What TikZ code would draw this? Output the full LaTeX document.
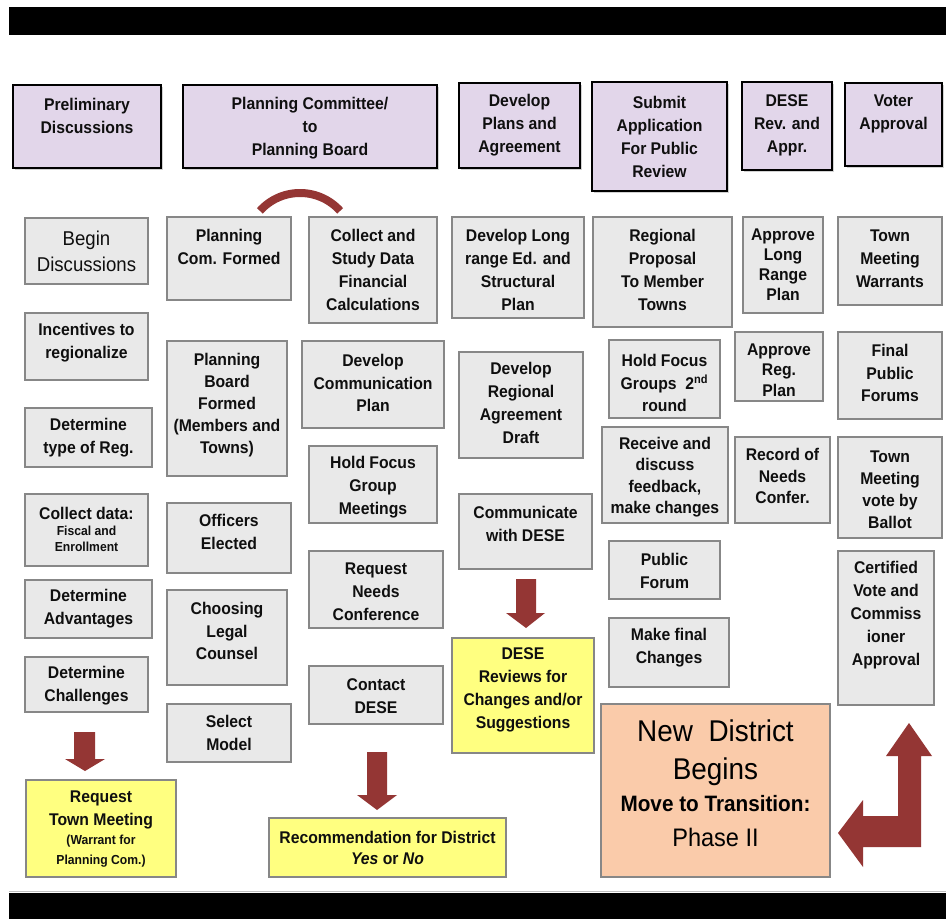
\documentclass[tikz,border=0pt]{standalone}
\usepackage{fontspec}
\setmainfont{Liberation Sans}[FakeStretch=0.93]
\usetikzlibrary{shadows}
\definecolor{hdrfill}{RGB}{226,214,234}
\definecolor{grayfill}{RGB}{233,233,233}
\definecolor{grayline}{RGB}{135,135,135}
\definecolor{yel}{RGB}{255,255,128}
\definecolor{peach}{RGB}{250,203,170}
\definecolor{dred}{RGB}{148,54,52}
\definecolor{ink}{RGB}{15,15,15}
\tikzset{
  hdr/.style={draw=black, line width=2.2pt, fill=hdrfill, inner sep=0pt, outer sep=0pt,
    drop shadow={shadow xshift=1.2pt, shadow yshift=-1.2pt, opacity=0.35}},
  gbox/.style={draw=grayline, line width=1.3pt, fill=grayfill, inner sep=0pt, outer sep=0pt,
    drop shadow={shadow xshift=0.9pt, shadow yshift=-0.9pt, opacity=0.25}},
  ybox/.style={gbox, fill=yel},
  obox/.style={gbox, fill=peach},
  txt/.style={align=center, inner sep=0pt, text=ink, font=\bfseries\fontsize{12.7}{17.2}\selectfont},
  blockarrow/.style={fill=dred, draw=none}
}
\NewDocumentCommand\BX{O{}mmmmmmmm}{%
  \node[#2, anchor=north west, minimum width={(#6-#4)*0.75pt}, minimum height={(#7-#5)*0.75pt}] (#3) at (#4,#5) {};
  \node[txt, #1] (#3t) at ({(#4+#6)/2},#8) {#9};
}
\begin{document}
\begin{tikzpicture}[x=0.75pt, y=-0.75pt]
\useasboundingbox (0,0) rectangle (946,919);
\fill[white] (0,0) rectangle (946,919);
% black bars
\fill[black] (9,7) rectangle (946,35);
\fill[black] (9,893) rectangle (946,919);
\draw[black!25, line width=0.8pt] (9,891.5) -- (946,891.5);

% headers
\BX{hdr}{h1}{13}{85}{161}{168}{116}{Preliminary\\Discussions}
\BX{hdr}{h2}{183}{85}{437}{168}{128}{Planning Committee/\\to\\Planning Board}
\BX{hdr}{h3}{459}{83}{580}{168}{125}{Develop\\Plans and\\Agreement}
\BX{hdr}{h4}{592}{82}{727}{191}{137}{Submit\\Application\\For Public\\Review}
\BX{hdr}{h5}{742}{82}{832}{170}{125}{DESE\\Rev. and\\Appr.}
\BX{hdr}{h6}{845}{83}{942}{166}{113.5}{Voter\\Approval}

% column 1
\BX[font=\fontsize{15}{19.5}\selectfont]{gbox}{a1}{25}{218}{148}{284}{251}{Begin\\Discussions}
\BX{gbox}{a2}{25}{313}{148}{380}{343}{Incentives to\\regionalize}
\BX{gbox}{a3}{25}{408}{152}{467}{438}{Determine\\type of Reg.}
\BX{gbox}{a4}{25}{494}{148}{566}{513}{Collect data:}
\node[txt, font=\bfseries\fontsize{9.8}{12}\selectfont] (a4s) at (86.5,539) {Fiscal and\\Enrollment};
\BX{gbox}{a5}{25}{580}{152}{638}{609}{Determine\\Advantages}
\BX{gbox}{a6}{25}{657}{148}{712}{686}{Determine\\Challenges}
\BX{ybox}{a7}{26}{780}{176}{877}{809.5}{Request\\Town Meeting}
\node[txt, font=\bfseries\fontsize{9.8}{15}\selectfont] (a7s) at (101,851) {(Warrant for\\Planning Com.)};

% column 2
\BX{gbox}{b1}{167}{217}{291}{300}{246.5}{Planning\\Com. Formed}
\BX[font=\bfseries\fontsize{12.7}{16.5}\selectfont]{gbox}{b2}{167}{341}{287}{476}{405}{Planning\\Board\\Formed\\(Members and\\Towns)}
\BX{gbox}{b3}{167}{503}{291}{573}{532}{Officers\\Elected}
\BX{gbox}{b4}{167}{590}{287}{685}{631}{Choosing\\Legal\\Counsel}
\BX{gbox}{b5}{167}{704}{291}{762}{733}{Select\\Model}

% column 3
\BX{gbox}{c1}{309}{217}{437}{323}{270}{Collect and\\Study Data\\Financial\\Calculations}
\BX{gbox}{c2}{302}{341}{444}{428}{383}{Develop\\Communication\\Plan}
\BX{gbox}{c3}{309}{446}{437}{523}{487}{Hold Focus\\Group\\Meetings}
\BX{gbox}{c4}{309}{551}{443}{628}{592}{Request\\Needs\\Conference}
\BX{gbox}{c5}{309}{666}{443}{724}{696}{Contact\\DESE}
\BX[font=\bfseries\fontsize{12.7}{16}\selectfont]{ybox}{c6}{269}{818}{506}{877}{848}{Recommendation for District\\\textit{Yes} or \textit{No}}

% column 4
\BX{gbox}{d1}{452}{217}{584}{318}{270}{Develop Long\\range Ed. and\\Structural\\Plan}
\BX{gbox}{d2}{459}{352}{583}{458}{403}{Develop\\Regional\\Agreement\\Draft}
\BX{gbox}{d3}{459}{494}{592}{569}{524}{Communicate\\with DESE}
\BX{ybox}{d4}{452}{638}{594}{753}{690}{DESE\\Reviews for\\Changes and/or\\Suggestions}

% column 5
\BX{gbox}{e1}{593}{217}{732}{327}{270}{Regional\\Proposal\\To Member\\Towns}
\BX{gbox}{e2}{609}{340}{720}{418}{383}{Hold Focus\\Groups\ \ 2\textsuperscript{nd}\\round}
\BX[font=\bfseries\fontsize{12.7}{16}\selectfont]{gbox}{e3}{602}{427}{728}{523}{477}{Receive and\\discuss\\feedback,\\make changes}
\BX{gbox}{e4}{609}{541}{720}{599}{571}{Public\\Forum}
\BX{gbox}{e5}{609}{618}{729}{687}{648}{Make final\\Changes}
\node[obox, anchor=north west, minimum width={229*0.75pt}, minimum height={173*0.75pt}] (e6) at (601,704) {};
\node[txt, text=black, font=\fontsize{22.5}{26}\selectfont, anchor=base] (nd1) at (715.5,741) {New\ \ District};
\node[txt, text=black, font=\fontsize{22.5}{26}\selectfont, anchor=base] (nd2) at (715.5,779) {Begins};
\node[txt, text=black, font=\bfseries\fontsize{16.7}{20}\selectfont, anchor=base] (nd3) at (715.5,811) {Move to Transition:};
\node[txt, text=black, font=\fontsize{19}{22}\selectfont, anchor=base] (nd4) at (715.5,846) {Phase II};

% column 6
\BX[font=\bfseries\fontsize{12.7}{15}\selectfont]{gbox}{f1}{743}{217}{823}{313}{265}{Approve\\Long\\Range\\Plan}
\BX[font=\bfseries\fontsize{12.7}{15.5}\selectfont]{gbox}{f2}{735}{332}{823}{401}{370}{Approve\\Reg.\\Plan}
\BX[font=\bfseries\fontsize{12.7}{16}\selectfont]{gbox}{f3}{735}{437}{830}{523}{476}{Record of\\Needs\\Confer.}

% column 7
\BX{gbox}{g1}{838}{217}{942}{305}{259}{Town\\Meeting\\Warrants}
\BX{gbox}{g2}{838}{332}{942}{419}{373}{Final\\Public\\Forums}
\BX[font=\bfseries\fontsize{12.7}{16.5}\selectfont]{gbox}{g3}{838}{437}{942}{538}{490}{Town\\Meeting\\vote by\\Ballot}
\BX{gbox}{g4}{838}{551}{934}{705}{615}{Certified\\Vote and\\Commiss\\ioner\\Approval}

% red arc
\draw[dred, line width=6pt] plot[domain=42:138, samples=40] ({300+54*cos(\x)},{247-54*sin(\x)});

% block arrows
\fill[blockarrow] (74,732) -- (95,732) -- (95,759) -- (105,759) -- (85,771) -- (65,759) -- (74,759) -- cycle;
\fill[blockarrow] (367,752) -- (387,752) -- (387,795) -- (397,795) -- (377,810) -- (357,795) -- (367,795) -- cycle;
\fill[blockarrow] (516,579) -- (536,579) -- (536,613) -- (545,613) -- (526,628) -- (506,613) -- (516,613) -- cycle;
% bent arrow
\fill[blockarrow] (909,723) -- (932,756) -- (921,756) -- (921,847) -- (863,847) -- (863,867) -- (838,833)
  -- (863,800) -- (863,816) -- (898,816) -- (898,756) -- (886,756) -- cycle;
\end{tikzpicture}
\end{document}
